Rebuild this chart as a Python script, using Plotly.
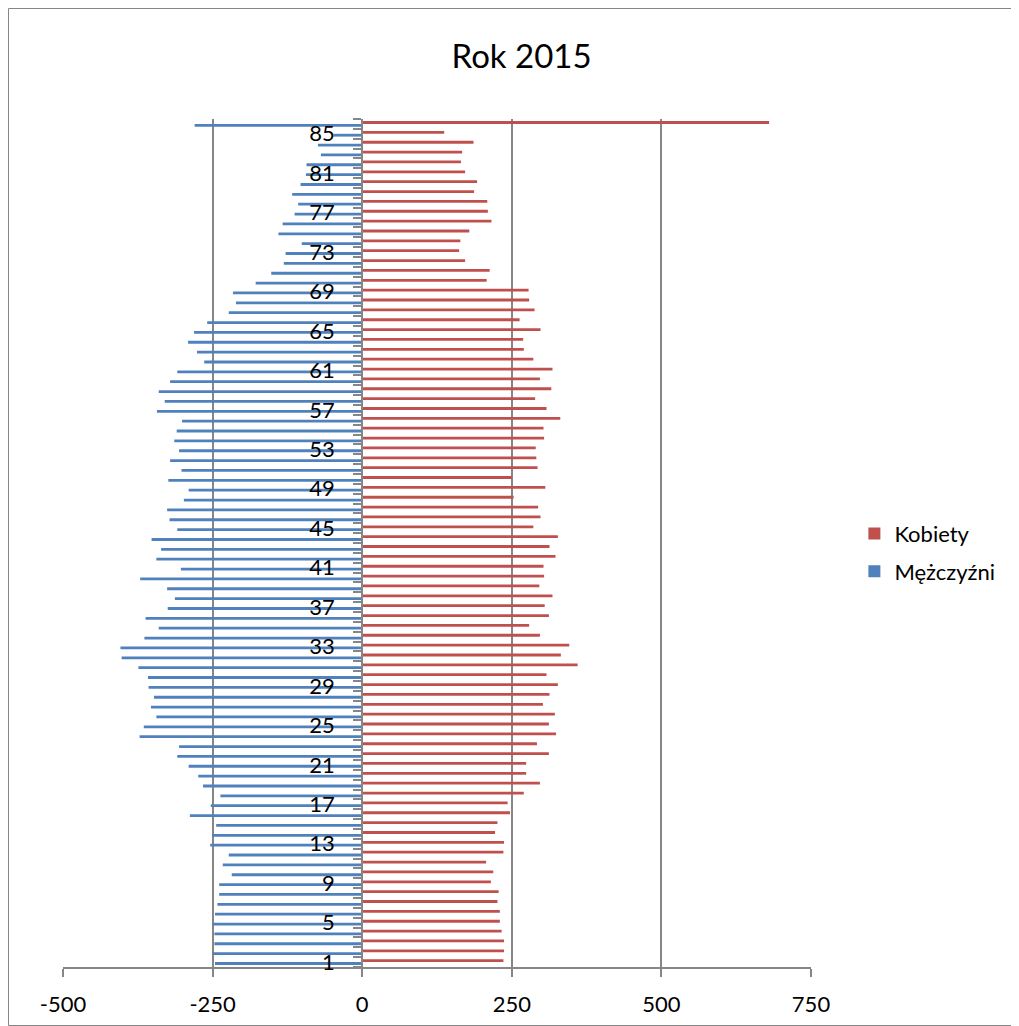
import plotly.graph_objects as go

ages = list(range(1, 87))

men = [-246, -250, -247, -247, -250, -246, -242, -239, -239, -218,
       -233, -223, -254, -251, -244, -288, -253, -237, -266, -274,
       -290, -309, -306, -372, -365, -344, -353, -348, -357, -358,
       -374, -402, -404, -364, -340, -362, -325, -313, -326, -371,
       -303, -344, -336, -352, -309, -322, -326, -298, -290, -324,
       -302, -321, -306, -314, -310, -301, -343, -330, -340, -321,
       -309, -264, -276, -291, -281, -259, -223, -211, -216, -178,
       -152, -131, -128, -101, -140, -133, -113, -107, -117, -103,
       -94, -93, -69, -74, -48, -280]

women = [236, 237, 237, 233, 230, 230, 226, 228, 215, 219,
         207, 236, 237, 222, 226, 247, 243, 270, 297, 274,
         274, 312, 292, 324, 312, 322, 302, 313, 327, 308,
         360, 332, 346, 297, 279, 312, 305, 318, 296, 304,
         303, 323, 313, 327, 286, 298, 294, 253, 306, 250,
         293, 291, 290, 304, 303, 331, 308, 289, 316, 297,
         318, 286, 270, 269, 298, 263, 288, 279, 278, 208,
         213, 172, 162, 164, 179, 216, 210, 209, 187, 192,
         172, 165, 167, 186, 137, 680]

x_ticks = [-500, -250, 0, 250, 500, 750]
x_tick_text = ["-500", "-250", "0", "250", "500", "750"]
y_ticks = list(range(1, 86, 4))

GRAY = "#868686"
W, H = 1011, 1018
ML, MR, MT, MB = 55, 208, 111, 59
PW, PH = W - ML - MR, H - MT - MB

fig = go.Figure()
fig.add_trace(go.Bar(y=ages, x=men, orientation="h", name="Mężczyźni",
                     marker=dict(color="#4F81BD", line_width=0),
                     legendgroup="m", legendrank=2))
fig.add_trace(go.Bar(y=ages, x=women, orientation="h", name="Kobiety",
                     marker=dict(color="#C0504D", line_width=0),
                     legendgroup="k", legendrank=1))

fig.update_layout(
    width=W, height=H,
    margin=dict(l=ML, r=MR, t=MT, b=MB, autoexpand=False),
    barmode="group", bargap=0.43, bargroupgap=0,
    plot_bgcolor="white", paper_bgcolor="white",
    font=dict(family="Lato", size=22, color="black"),
    title=dict(text="Rok 2015", x=0.508, xref="container", y=1 - 48 / H,
               yref="container", xanchor="center", yanchor="middle",
               font=dict(size=33, color="black")),
    legend=dict(x=1.058, y=0.4885, xanchor="left", yanchor="middle",
                traceorder="grouped", tracegroupgap=6,
                font=dict(size=22), itemwidth=30),
    showlegend=True,
)
fig.update_xaxes(range=[-500, 750], tickmode="array", tickvals=x_ticks, ticktext=x_tick_text,
                 showgrid=True, gridcolor=GRAY, gridwidth=2,
                 zeroline=True, zerolinecolor=GRAY, zerolinewidth=2,
                 showline=True, linecolor=GRAY, linewidth=2,
                 ticks="outside", ticklen=8, tickwidth=2, tickcolor=GRAY,
                 ticklabelstandoff=9, automargin=False)
fig.update_yaxes(range=[0.5, 86.5], anchor="free", position=0.4,
                 tickmode="array", tickvals=y_ticks,
                 ticks="outside", ticklen=22, tickcolor="rgba(0,0,0,0)",
                 showgrid=False, zeroline=False, automargin=False,
                 showline=True, linecolor=GRAY, linewidth=2,
                 minor=dict(tick0=0.5, dtick=1, ticks="outside", ticklen=8,
                            tickwidth=2, tickcolor=GRAY, showgrid=False))

fig.add_shape(type="rect", xref="paper", yref="paper",
              x0=(0.5 - ML) / PW, x1=(W - 0.5 - ML) / PW,
              y0=(-(MB - 0.5)) / PH, y1=(PH + MT - 0.5) / PH,
              line=dict(color=GRAY, width=1), fillcolor="rgba(0,0,0,0)", layer="below")

fig.write_html("out.html")
